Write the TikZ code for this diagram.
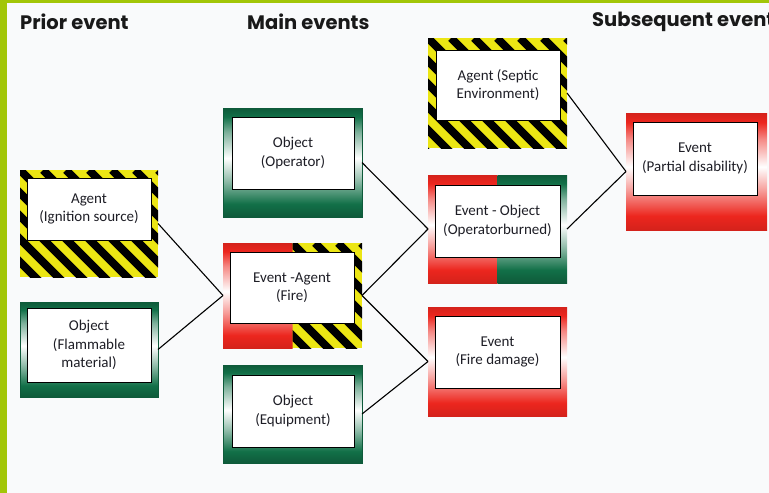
\documentclass[tikz,border=0pt]{standalone}
\usepackage{fontspec}
\setmainfont{Carlito}
\newfontfamily\titlefont{Poppins}
\definecolor{G}{RGB}{18,112,72}
\colorlet{Gd}{G!80!black}
\colorlet{Gm}{G!45!white}
\colorlet{Gl}{G!55!white}
\definecolor{R}{RGB}{236,38,30}
\colorlet{Rd}{R!90!black}
\colorlet{Rm}{R!45!white}
\colorlet{Rl}{R!55!white}
\definecolor{HY}{RGB}{236,230,20}
\definecolor{LB}{RGB}{162,198,8}
\definecolor{BG}{RGB}{249,250,251}
\definecolor{TX}{RGB}{30,30,38}
\pgfdeclareverticalshading{gshade}{100bp}{color(0bp)=(Gd); color(25bp)=(Gd); color(31bp)=(G); color(42bp)=(Gm); color(52bp)=(white); color(64bp)=(Gl); color(71bp)=(G); color(75bp)=(Gd); color(100bp)=(Gd)}
\pgfdeclareverticalshading{rshade}{100bp}{color(0bp)=(Rd); color(25bp)=(Rd); color(31bp)=(R); color(42bp)=(Rm); color(52bp)=(white); color(64bp)=(Rl); color(71bp)=(R); color(75bp)=(Rd); color(100bp)=(Rd)}
\newcommand\hazardpat{%
  \fill[HY] (path picture bounding box.south west) rectangle (path picture bounding box.north east);
  \foreach \k in {-8,...,8}
    \draw[line width=8pt,black] ([xshift=\k*23pt]path picture bounding box.north west) -- ++(170,170);%
}
\tikzset{
  outer/.style={inner sep=0pt, outer sep=0pt, draw=none},
  gbox/.style={outer, shading=gshade, draw=Gd, line width=0.6pt},
  rbox/.style={outer, shading=rshade},
  hbox/.style={outer, path picture={\hazardpat}},
  firebox/.style={outer, path picture={
    \shade[shading=rshade] (path picture bounding box.south west) rectangle (path picture bounding box.north);
    \begin{scope}
      \clip (path picture bounding box.south) rectangle (path picture bounding box.north east);
      \hazardpat
    \end{scope}}},
  rgbox/.style={outer, path picture={
    \shade[shading=rshade] (path picture bounding box.south west) rectangle (path picture bounding box.north);
    \shade[shading=gshade] (path picture bounding box.south) rectangle (path picture bounding box.north east);}},
  inbox/.style={draw=black, line width=0.8pt, fill=white, inner sep=0pt, align=center,
    font=\fontsize{15}{18.5}\selectfont, text=TX},
  title/.style={font=\titlefont\bfseries\fontsize{19.5}{22}\selectfont, anchor=west, inner sep=0pt, text=black!90},
  link/.style={line width=1.1pt, black}
}
\begin{document}
\begin{tikzpicture}[x=1pt,y=-1pt]
\useasboundingbox (0,0) rectangle (769,493);
\fill[BG] (0,0) rectangle (769,493);
\fill[LB] (0,0) rectangle (7,493);
\fill[LB] (0,0) rectangle (769,2.5);

\node[title] (t1) at (20,22) {Prior event};
\node[title] (t2) at (247,22) {Main events};
\node[title] (t3) at (592,22) {Subsequent event};

% outer boxes
\node[hbox, minimum width=138pt, minimum height=107pt] (ign) at (89,223.5) {};
\node[gbox, minimum width=138pt, minimum height=95pt] (flam) at (89,349.5) {};
\node[gbox, minimum width=139pt, minimum height=109pt] (oper) at (292.5,162.5) {};
\node[firebox, minimum width=139pt, minimum height=105pt] (fire) at (292.5,295.5) {};
\node[gbox, minimum width=139pt, minimum height=98pt] (equip) at (292.5,414) {};
\node[hbox, minimum width=139pt, minimum height=110pt] (septic) at (497.5,93) {};
\node[rgbox, minimum width=139pt, minimum height=108pt] (opb) at (497.5,229) {};
\node[rbox, minimum width=139pt, minimum height=109pt] (fdam) at (497.5,361.5) {};
\node[rbox, minimum width=141pt, minimum height=117pt] (pdis) at (696.5,171.5) {};

% inner text boxes
\node[inbox, minimum width=124pt, minimum height=62pt] (ignT) at (89,209) {Agent\\(Ignition source)};
\node[inbox, minimum width=124pt, minimum height=74pt] (flamT) at (89,345) {Object\\(Flammable\\material)};
\node[inbox, minimum width=122pt, minimum height=72pt] (operT) at (293,153) {Object\\(Operator)};
\node[inbox, minimum width=124pt, minimum height=71pt] (fireT) at (292,287.5) {Event -Agent\\(Fire)};
\node[inbox, minimum width=122pt, minimum height=72pt] (equipT) at (293,411) {Object\\(Equipment)};
\node[inbox, minimum width=124pt, minimum height=70pt] (septicT) at (498,85) {Agent (Septic\\Environment)};
\node[inbox, minimum width=125pt, minimum height=72pt] (opbT) at (497.5,221) {Event - Object\\(Operatorburned)};
\node[inbox, minimum width=125pt, minimum height=72pt] (fdamT) at (497.5,352) {Event\\(Fire damage)};
\node[inbox, minimum width=124pt, minimum height=73pt] (pdisT) at (695,158.5) {Event\\(Partial disability)};

% connectors
\draw[link] (ign.east) -- (fire.west);
\draw[link] (flam.east) -- (fire.west);
\draw[link] (oper.east) -- (opb.west);
\draw[link] (fire.east) -- (opb.west);
\draw[link] (fire.east) -- (fdam.west);
\draw[link] (equip.east) -- (fdam.west);
\draw[link] (septic.east) -- (pdis.west);
\draw[link] (opb.east) -- (pdis.west);
\end{tikzpicture}
\end{document}
